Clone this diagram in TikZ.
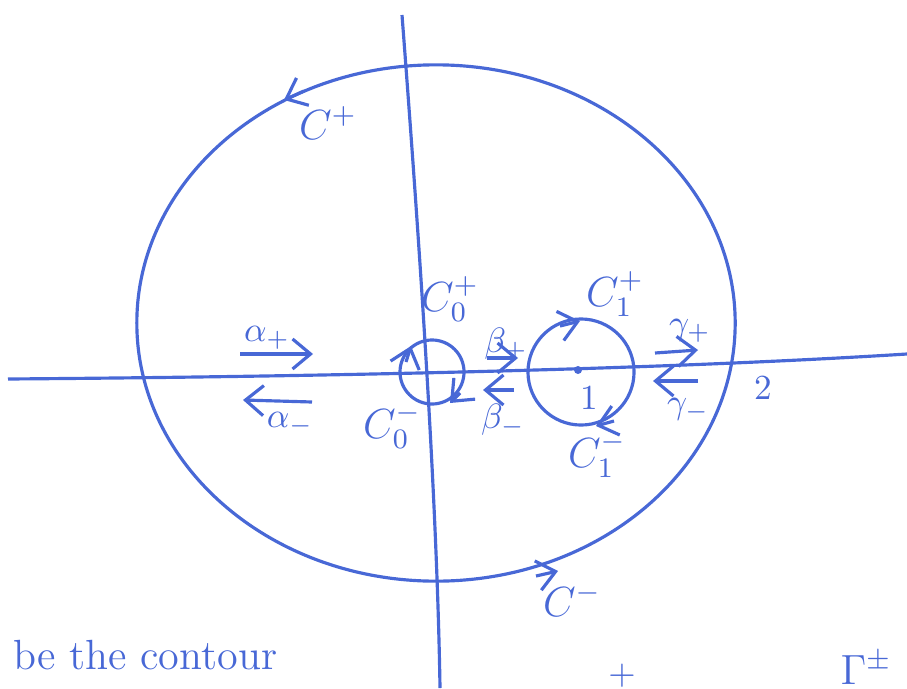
\documentclass[tikz,border=0pt]{standalone}
\usepackage{amsmath,amssymb}
\usetikzlibrary{arrows.meta}
\definecolor{pen}{RGB}{72,104,214}

\begin{document}
\begin{tikzpicture}[x=0.01cm,y=-0.01cm,pen,line width=0.9pt,
  >={Straight Barb[length=1.8mm,width=3mm]},
  lbl/.style={text=pen,font=\normalsize,inner sep=1pt}]
\useasboundingbox (0,0) rectangle (907,688);
\draw (8,379) .. controls (400,376) and (700,367) .. (907,354);
\draw (402,15) .. controls (420,250) and (437,500) .. (440,688);
\draw (436,323) ellipse[x radius=2.99cm,y radius=2.58cm];
\draw (432,372) circle[radius=0.32cm];
\draw (581,372) circle[radius=0.53cm];
\fill (578,370) circle (0.04cm);
% orientation marks
\draw[->] (304,91) -- (284,100);
\draw[->] (536,576) -- (558,571);
\draw[->] (406,362) -- (411,346);
\draw[->] (460,393) -- (450,403);
\draw[->] (560,326) -- (580,321);
\draw[->] (614,421) -- (596,426);
% rays along the axis
\draw[->] (240,354) -- (313,354);
\draw[->] (312,402) -- (243,400);
\draw[->] (487,358) -- (518,358);
\draw[->] (514,390) -- (483,390);
\draw[->] (655,353) -- (698,350);
\draw[->] (698,381) -- (653,381);
\node[lbl] (cp) at (328,123) {\large $C^{+}$};
\node[lbl] (cm) at (572,600) {\large $C^{-}$};
\node[lbl] (c0p) at (450,299) {\large $C_0^{+}$};
\node[lbl] (c0m) at (392,426) {\large $C_0^{-}$};
\node[lbl] (c1p) at (615,294) {\large $C_1^{+}$};
\node[lbl] (c1m) at (597,455) {\large $C_1^{-}$};
\node[lbl] (ap) at (267,338) {$\alpha_{+}$};
\node[lbl] (am) at (290,424) {$\alpha_{-}$};
\node[lbl] (bp) at (506,344) {$\beta_{+}$};
\node[lbl] (bm) at (503,420) {$\beta_{-}$};
\node[lbl] (gp) at (690,331) {$\gamma_{+}$};
\node[lbl] (gm) at (688,410) {$\gamma_{-}$};
\node[lbl] (one) at (589,398) {$1$};
\node[lbl] (two) at (763,388) {$2$};
\node[lbl,anchor=west,font=\large] (txt) at (8,655) {be the contour};
\node[lbl] (pl) at (622,676) {$+$};
\node[lbl] (gam) at (866,668) {\large $\Gamma^{\pm}$};
\end{tikzpicture}
\end{document}
